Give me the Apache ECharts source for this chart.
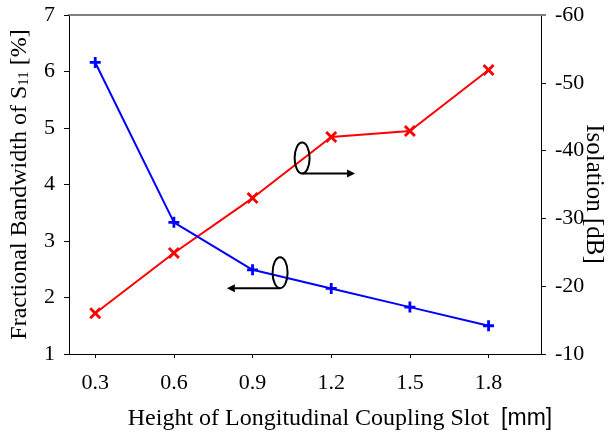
<!DOCTYPE html>
<html>
<head>
<meta charset="utf-8">
<script src="https://cdn.jsdelivr.net/npm/echarts@6/dist/echarts.min.js"></script>
<style>
html, body { margin: 0; padding: 0; background: #fff; }
#chart { width: 609px; height: 434px; }
</style>
</head>
<body>
<div id="chart"></div>
<script>
// 数据
var slotHeight = [0.3, 0.6, 0.9, 1.2, 1.5, 1.8];          // mm
var bandwidth = [6.16, 3.33, 2.49, 2.16, 1.83, 1.50];     // %
var isolation = [-16.0, -24.9, -33.0, -42.0, -42.9, -51.9]; // dB
var xTicks = [0.3, 0.6, 0.9, 1.2, 1.5, 1.8];

// 注释（椭圆 + 箭头）的数据坐标
var noteBw = { x: 1.005, y: 2.44, toX: 0.802 };   // 指向左轴
var noteIso = { x: 1.089, y: -38.9, toX: 1.291 }; // 指向右轴

var serif = 'Liberation Serif';
var plusPath = 'path://M-1.4,-5.5H1.4V-1.4H5.5V1.4H1.4V5.5H-1.4V1.4H-5.5V-1.4H-1.4Z';
var crossPath = 'path://M-6,-4L-4,-6L0,-2L4,-6L6,-4L2,0L6,4L4,6L0,2L-4,6L-6,4L-2,0Z';

var myChart = echarts.init(document.getElementById('chart'));

function pairs(xs, ys) {
    var out = [];
    for (var i = 0; i < xs.length; i++) {
        out.push([xs[i], ys[i]]);
    }
    return out;
}

var option = {
    animation: false,
    backgroundColor: '#fff',
    grid: { left: 69, right: 68, top: 15, bottom: 80, containLabel: false, outerBoundsMode: 'none' },
    xAxis: [{
        type: 'value',
        min: 0.2,
        max: 2.0,
        position: 'bottom',
        name: '{p|}{t|Height of Longitudinal Coupling Slot}{u|[mm]}',
        nameLocation: 'middle',
        nameGap: 53,
        nameTextStyle: {
            fontFamily: serif,
            fontSize: 24,
            rich: {
                p: { width: 70 },
                t: { fontFamily: serif, fontSize: 24, color: '#000' },
                u: { fontFamily: 'Liberation Sans', fontSize: 23, color: '#000', padding: [0, 0, 0, 12] }
            }
        },
        axisLine: { lineStyle: { color: '#000', width: 1 } },
        axisTick: { show: true, inside: false, length: 4, customValues: xTicks, lineStyle: { color: '#000' } },
        axisLabel: {
            customValues: xTicks,
            margin: 18,
            fontFamily: serif,
            fontSize: 22,
            color: '#000',
            formatter: function (v) { return v.toFixed(1); }
        },
        splitLine: { show: false }
    }, {
        type: 'value',
        min: 0.2,
        max: 2.0,
        position: 'top',
        axisLine: { show: true, lineStyle: { color: '#808080', width: 2 } },
        axisTick: { show: false },
        axisLabel: { show: false },
        splitLine: { show: false }
    }],
    yAxis: [{
        type: 'value',
        min: 1,
        max: 7,
        interval: 1,
        position: 'left',
        name: '{t|Fractional Bandwidth of S}{s|11}{t| [%]}',
        nameLocation: 'middle',
        nameRotate: 90,
        nameGap: 37,
        nameTextStyle: {
            rich: {
                t: { fontFamily: serif, fontSize: 24, color: '#000' },
                s: { fontFamily: serif, fontSize: 15, color: '#000', verticalAlign: 'bottom', padding: [10, 0, 0, 0] }
            }
        },
        axisLine: { show: true, lineStyle: { color: '#000', width: 1 } },
        axisTick: { show: true, inside: false, length: 5, lineStyle: { color: '#000' } },
        axisLabel: { margin: 14, fontFamily: serif, fontSize: 22, color: '#000' },
        splitLine: { show: false }
    }, {
        type: 'value',
        min: -60,
        max: -10,
        interval: 10,
        inverse: true,
        position: 'right',
        name: 'Isolation [dB]',
        nameLocation: 'middle',
        nameRotate: -90,
        nameGap: 40,
        nameMoveOverlap: false,
        nameTextStyle: {
            fontFamily: serif,
            fontSize: 25,
            color: '#000',
            padding: [0, 0, 0, 19]
        },
        axisLine: { show: true, lineStyle: { color: '#000', width: 1 } },
        axisTick: { show: true, inside: false, length: 5, lineStyle: { color: '#000' } },
        axisLabel: { margin: 14, fontFamily: serif, fontSize: 22, color: '#000' },
        splitLine: { show: false }
    }],
    series: [{
        name: 'Bandwidth',
        type: 'line',
        xAxisIndex: 0,
        yAxisIndex: 0,
        data: pairs(slotHeight, bandwidth),
        symbol: plusPath,
        symbolSize: 11,
        lineStyle: { color: '#0000ff', width: 2 },
        itemStyle: { color: '#0000ff' },
        z: 3
    }, {
        name: 'Isolation',
        type: 'line',
        xAxisIndex: 0,
        yAxisIndex: 1,
        data: pairs(slotHeight, isolation),
        symbol: crossPath,
        symbolSize: 12,
        lineStyle: { color: '#ff0000', width: 2 },
        itemStyle: { color: '#ff0000' },
        z: 2
    }]
};
myChart.setOption(option);

/*====================注释：椭圆 + 箭头====================*/
function note(n, axisIdx, dir) {
    var finder = { xAxisIndex: 0, yAxisIndex: axisIdx };
    var c = myChart.convertToPixel(finder, [n.x, n.y]);
    var end = myChart.convertToPixel(finder, [n.toX, n.y]);
    var rx = 7.5, ry = 15.5;
    var by = c[1] + ry;
    var tipX = end[0];
    var headLen = 8;
    return [{
        type: 'ellipse',
        shape: { cx: c[0], cy: c[1], rx: rx, ry: ry },
        style: { fill: 'none', stroke: '#000', lineWidth: 2 },
        z: 10
    }, {
        type: 'line',
        shape: { x1: c[0], y1: by, x2: tipX - dir * headLen, y2: by },
        style: { stroke: '#000', lineWidth: 2 },
        z: 10
    }, {
        type: 'polygon',
        shape: { points: [[tipX, by], [tipX - dir * headLen, by - 4], [tipX - dir * headLen, by + 4]] },
        style: { fill: '#000' },
        z: 10
    }];
}

// 顶部灰色边框线稍微伸出右轴
var topLeft = myChart.convertToPixel({ xAxisIndex: 1, yAxisIndex: 0 }, [2.0, 7]);

myChart.setOption({
    graphic: note(noteIso, 1, 1).concat(note(noteBw, 0, -1)).concat([{
        type: 'line',
        shape: { x1: topLeft[0], y1: topLeft[1], x2: topLeft[0] + 5, y2: topLeft[1] },
        style: { stroke: '#808080', lineWidth: 2 },
        z: 10
    }])
});
</script>
</body>
</html>
